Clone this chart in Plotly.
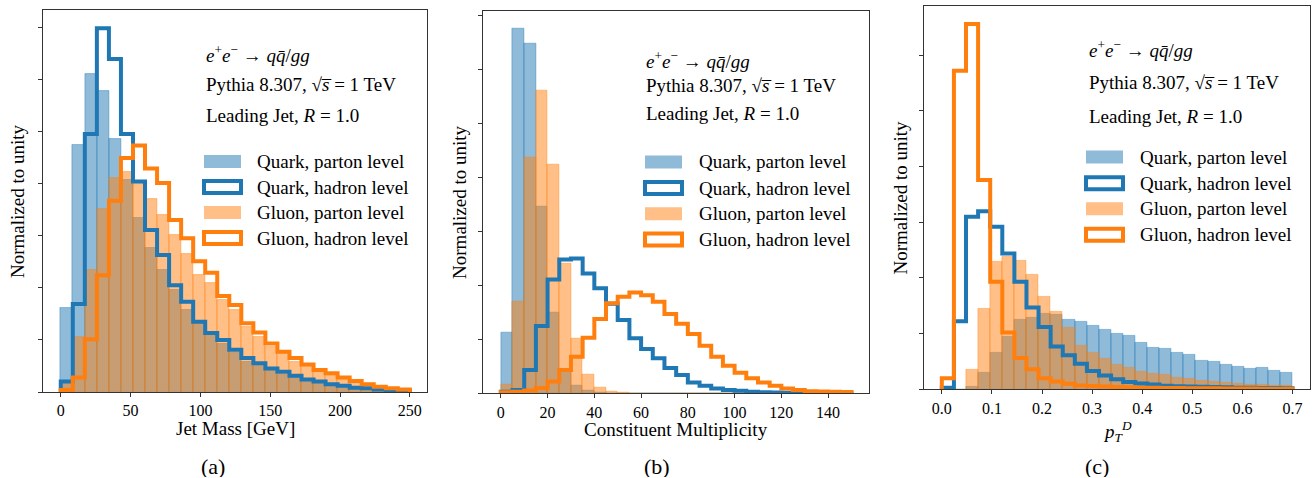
import numpy as np
import plotly.graph_objects as go

W, H = 1314, 478
FONT = "Liberation Serif"
BLUE = "#1f77b4"
ORANGE = "#ff7f0e"
BLUE_A = "rgba(31,119,180,0.5)"
ORANGE_A = "rgba(255,127,14,0.5)"

# ---------------- data (heights in y-tick units) ----------------
# (a) Jet mass, 29 bins from 0 to 250 GeV
mass_range = (0, 250)
mass_nbins = 29
mass_quark_parton = [1.62, 4.73, 6.10, 5.78, 4.85, 4.07, 3.33, 2.76, 2.35, 1.96, 1.57, 1.35, 1.09, 0.93,
                     0.74, 0.58, 0.49, 0.42, 0.33, 0.26, 0.20, 0.17, 0.13, 0.10, 0.08, 0.06, 0.05, 0.04, 0.03]
mass_quark_hadron = [0.20, 1.69, 4.95, 6.98, 6.39, 4.95, 4.04, 3.11, 2.63, 2.05, 1.73, 1.35, 1.13, 1.00,
                     0.81, 0.65, 0.55, 0.45, 0.39, 0.31, 0.24, 0.20, 0.15, 0.12, 0.08, 0.07, 0.05, 0.04, 0.03]
mass_gluon_parton = [0.15, 1.05, 2.34, 3.51, 4.10, 4.22, 4.00, 3.70, 3.40, 3.01, 2.65, 2.25, 2.09, 1.77,
                     1.57, 1.25, 1.06, 0.87, 0.74, 0.58, 0.49, 0.39, 0.33, 0.23, 0.17, 0.13, 0.10, 0.08, 0.06]
mass_gluon_hadron = [0.04, 0.28, 1.01, 2.24, 3.67, 4.49, 4.73, 4.29, 4.01, 3.30, 2.95, 2.51, 2.29, 1.84,
                     1.67, 1.32, 1.14, 0.93, 0.77, 0.65, 0.53, 0.42, 0.36, 0.28, 0.21, 0.15, 0.10, 0.07, 0.05]
mass_xticks = [0, 50, 100, 150, 200, 250]

# (b) Constituent multiplicity, 30 bins from 0 to 150
mult_range = (0, 150)
mult_nbins = 30
mult_quark_parton = [1.12, 6.76, 6.48, 3.47, 1.50, 0.40, 0.14, 0.05, 0.01, 0.0, 0.0, 0.0, 0.0, 0.0, 0.0,
                     0.0, 0.0, 0.0, 0.0, 0.0, 0.0, 0.0, 0.0, 0.0, 0.0, 0.0, 0.0, 0.0, 0.0, 0.0]
mult_quark_hadron = [0.03, 0.06, 0.43, 1.25, 2.11, 2.48, 2.50, 2.22, 1.95, 1.66, 1.36, 1.02, 0.82, 0.65, 0.47,
                     0.34, 0.20, 0.14, 0.09, 0.06, 0.045, 0.03, 0.02, 0.015, 0.01, 0.007, 0.004, 0.003, 0.002, 0.001]
mult_gluon_parton = [0.17, 1.70, 4.37, 5.62, 4.25, 2.40, 1.02, 0.34, 0.10, 0.03, 0.005, 0.0, 0.0, 0.0, 0.0,
                     0.0, 0.0, 0.0, 0.0, 0.0, 0.0, 0.0, 0.0, 0.0, 0.0, 0.0, 0.0, 0.0, 0.0, 0.0]
mult_gluon_hadron = [0.02, 0.03, 0.05, 0.10, 0.22, 0.43, 0.68, 1.03, 1.38, 1.67, 1.79, 1.87, 1.82, 1.70, 1.47,
                     1.29, 1.10, 0.88, 0.68, 0.51, 0.38, 0.28, 0.20, 0.14, 0.09, 0.06, 0.04, 0.035, 0.03, 0.025]
mult_xticks = [0, 20, 40, 60, 80, 100, 120, 140]

# (c) pT^D, 29 bins from 0 to 0.7
ptd_range = (0.0, 0.7)
ptd_nbins = 29
ptd_quark_parton = [0.0, 0.0, 0.05, 0.30, 0.66, 0.95, 1.25, 1.28, 1.35, 1.33, 1.25, 1.22, 1.14, 1.07, 0.99,
                    0.96, 0.83, 0.75, 0.72, 0.65, 0.62, 0.51, 0.49, 0.44, 0.40, 0.37, 0.38, 0.33, 0.30]
ptd_quark_hadron = [0.03, 1.22, 3.10, 3.20, 2.92, 2.44, 1.93, 1.47, 1.12, 0.77, 0.61, 0.46, 0.33, 0.25, 0.18,
                    0.13, 0.105, 0.085, 0.066, 0.055, 0.05, 0.045, 0.04, 0.035, 0.03, 0.03, 0.025, 0.025, 0.02]
ptd_gluon_parton = [0.0, 0.0, 0.35, 1.44, 2.29, 2.38, 2.31, 2.05, 1.66, 1.40, 1.11, 0.78, 0.65, 0.54, 0.44,
                    0.38, 0.32, 0.27, 0.26, 0.21, 0.18, 0.15, 0.13, 0.11, 0.10, 0.08, 0.08, 0.07, 0.06]
ptd_gluon_hadron = [0.20, 5.72, 6.56, 3.76, 1.93, 1.02, 0.56, 0.36, 0.20, 0.14, 0.10, 0.07, 0.06, 0.05, 0.04,
                    0.035, 0.03, 0.03, 0.025, 0.025, 0.02, 0.02, 0.02, 0.015, 0.015, 0.015, 0.01, 0.01, 0.01]
ptd_xticks = [0.0, 0.1, 0.2, 0.3, 0.4, 0.5, 0.6, 0.7]

legend_labels = ["Quark, parton level", "Quark, hadron level", "Gluon, parton level", "Gluon, hadron level"]
info_lines = [
    "<i>e</i><sup>+</sup><i>e</i><sup>\u2212</sup> \u2192 <i>q</i><i>q\u0304</i>/<i>gg</i>",
    "Pythia 8.307, \u221a<i>s\u0305</i> = 1 TeV",
    "Leading Jet, <i>R</i> = 1.0",
]
x_titles = ["Jet Mass [GeV]", "Constituent Multiplicity", "<i>p</i><sub><i>T</i></sub><sup><i>D</i></sup>"]
y_title = "Normalized to unity"
captions = ["(a)", "(b)", "(c)"]

# ---------------- layout in pixels ----------------
panels = [
    dict(rng=mass_range, nb=mass_nbins, qp=mass_quark_parton, qh=mass_quark_hadron,
         gp=mass_gluon_parton, gh=mass_gluon_hadron, xt=mass_xticks,
         box=(43.3, 427.3, 10.0, 392.0), txt=(203.5, [54, 84, 115]),
         leg=(204, 241, [161.5, 187, 212.5, 238], 255), ytit=18, xtit=(235, 428), cap=213),
    dict(rng=mult_range, nb=mult_nbins, qp=mult_quark_parton, qh=mult_quark_hadron,
         gp=mult_gluon_parton, gh=mult_gluon_hadron, xt=mult_xticks,
         box=(483.3, 869.0, 10.6, 393.3), txt=(644, [60, 86, 113]),
         leg=(645, 682, [162, 188, 213.7, 239.5], 697), ytit=460, xtit=(676, 429), cap=657),
    dict(rng=ptd_range, nb=ptd_nbins, qp=ptd_quark_parton, qh=ptd_quark_hadron,
         gp=ptd_gluon_parton, gh=ptd_gluon_hadron, xt=ptd_xticks,
         box=(924.3, 1310.0, 5.8, 389.3), txt=(1087.3, [49, 82.5, 116.5]),
         leg=(1086, 1123, [157, 183.3, 208.8, 234.8], 1138), ytit=901, xtit=(1117, 431), cap=1097),
]


def px(x):
    return x / W


def py(y):
    return 1 - y / H


fig = go.Figure()
annotations = []
shapes = []

for i, p in enumerate(panels):
    ax = "" if i == 0 else str(i + 1)
    xa, ya = "x" + ax, "y" + ax
    lo, hi = p["rng"]
    edges = np.linspace(lo, hi, p["nb"] + 1)
    centers = 0.5 * (edges[:-1] + edges[1:])
    width = edges[1] - edges[0]

    def step_trace(vals, color):
        xs = [edges[0]] + list(edges) + [edges[-1]]
        ys = [0] + list(vals) + [vals[-1], 0]
        return go.Scatter(x=xs, y=ys, mode="lines", line=dict(color=color, width=4, shape="hv"),
                          xaxis=xa, yaxis=ya, showlegend=False, hoverinfo="skip")

    fig.add_trace(go.Bar(x=centers, y=p["qp"], width=width, xaxis=xa, yaxis=ya, showlegend=False,
                         marker=dict(color=BLUE_A, line=dict(color=BLUE_A, width=0.8))))
    fig.add_trace(go.Bar(x=centers, y=p["gp"], width=width, xaxis=xa, yaxis=ya, showlegend=False,
                         marker=dict(color=ORANGE_A, line=dict(color=ORANGE_A, width=0.8))))
    fig.add_trace(step_trace(p["qh"], BLUE))
    fig.add_trace(step_trace(p["gh"], ORANGE))

    ymax = 1.05 * max(max(p["qp"]), max(p["qh"]), max(p["gp"]), max(p["gh"]))
    pad = 0.05 * (hi - lo)
    x0, x1, y0, y1 = p["box"]
    ticktext = [("%g" % t) if i < 2 else ("%.1f" % t) for t in p["xt"]]
    fig.update_layout({
        "xaxis" + ax: dict(domain=[px(x0), px(x1)], range=[lo - pad, hi + pad], anchor=ya,
                           tickvals=p["xt"], ticktext=ticktext, ticks="outside", ticklen=4,
                           tickcolor="#333", showline=True, linecolor="#333", linewidth=1,
                           mirror=True, showgrid=False, zeroline=False,
                           tickfont=dict(family=FONT, size=16, color="black")),
        "yaxis" + ax: dict(domain=[py(y1), py(y0)], range=[0, ymax], anchor=xa,
                           tickvals=list(range(0, int(ymax) + 1)), showticklabels=False,
                           ticks="outside", ticklen=4, tickcolor="#333", showline=True,
                           linecolor="#333", linewidth=1, mirror=True, showgrid=False, zeroline=False),
    })

    # info text
    tx, tys = p["txt"]
    for line, ty in zip(info_lines, tys):
        annotations.append(dict(x=px(tx), y=py(ty), xref="paper", yref="paper", text=line,
                                showarrow=False, xanchor="left", yanchor="middle",
                                font=dict(family=FONT, size=19, color="black")))
    # legend
    lx0, lx1, lys, ltx = p["leg"]
    styles = [("fill", BLUE_A), ("line", BLUE), ("fill", ORANGE_A), ("line", ORANGE)]
    for (kind, col), lab, ly in zip(styles, legend_labels, lys):
        if kind == "fill":
            shapes.append(dict(type="rect", xref="paper", yref="paper", x0=px(lx0), x1=px(lx1),
                               y0=py(ly + 6.5), y1=py(ly - 6.5), fillcolor=col, line=dict(width=0)))
        else:
            shapes.append(dict(type="rect", xref="paper", yref="paper", x0=px(lx0), x1=px(lx1),
                               y0=py(ly + 6), y1=py(ly - 6), fillcolor="white",
                               line=dict(width=4, color=col)))
        annotations.append(dict(x=px(ltx), y=py(ly), xref="paper", yref="paper", text=lab,
                                showarrow=False, xanchor="left", yanchor="middle",
                                font=dict(family=FONT, size=19, color="black")))
    # axis titles and caption
    annotations.append(dict(x=px(p["ytit"]), y=py((y0 + y1) / 2), xref="paper", yref="paper",
                            text=y_title, textangle=-90, showarrow=False, xanchor="center",
                            yanchor="middle", font=dict(family=FONT, size=19, color="black")))
    annotations.append(dict(x=px(p["xtit"][0]), y=py(p["xtit"][1]), xref="paper", yref="paper",
                            text=x_titles[i], showarrow=False, xanchor="center", yanchor="middle",
                            font=dict(family=FONT, size=19, color="black")))
    annotations.append(dict(x=px(p["cap"]), y=py(466), xref="paper", yref="paper",
                            text=captions[i], showarrow=False, xanchor="center", yanchor="middle",
                            height=22, borderpad=0,
                            font=dict(family=FONT, size=22, color="black")))

fig.update_layout(width=W, height=H, margin=dict(l=0, r=0, t=0, b=0), barmode="overlay",
                  bargap=0, plot_bgcolor="white", paper_bgcolor="white",
                  annotations=annotations, shapes=shapes, showlegend=False)

fig.write_html("out.html")
